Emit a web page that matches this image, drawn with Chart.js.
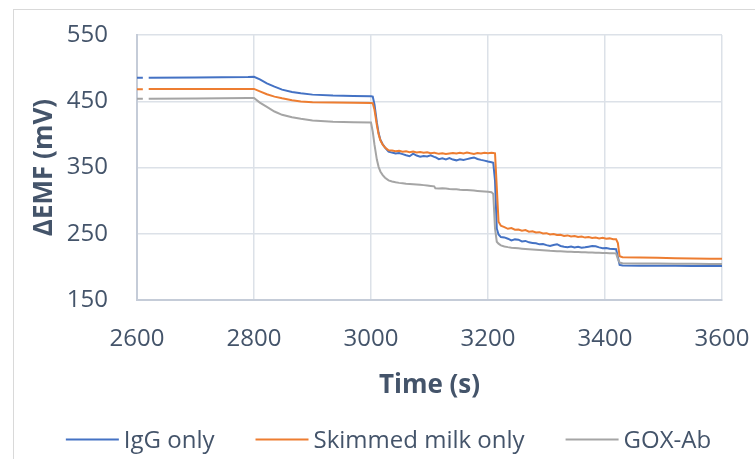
<!DOCTYPE html>
<html><head><meta charset="utf-8">
<script src="https://cdn.jsdelivr.net/npm/chart.js@4.4.1/dist/chart.umd.min.js"></script>
<style>html,body{margin:0;padding:0;background:#fff;}#wrap{width:755px;height:459px;position:relative;}</style>
</head><body><div id="wrap"><canvas id="c" width="755" height="459"></canvas></div>
<script>
// Time (s)
const times = [
  2600, 2610, 2615, 2620, 2700, 2790, 2800,
  2810, 2822, 2835, 2848, 2865, 2880, 2900, 2935, 2970, 3000,
  3003, 3006, 3010, 3013, 3016, 3020, 3024, 3030,
  3036, 3042, 3048, 3054, 3060, 3066, 3072, 3078, 3084, 3090, 3096, 3102, 3108,
  3110,
  3116, 3122, 3128, 3134, 3140, 3146, 3152, 3158, 3164, 3170, 3176, 3182, 3188, 3194, 3200, 3206,
  3209, 3212, 3215, 3218, 3222,
  3228, 3234, 3240, 3246, 3252, 3258, 3264, 3270, 3276, 3282,
  3288, 3294, 3300, 3306, 3312, 3318, 3324, 3330, 3336, 3342,
  3348, 3354, 3360, 3366, 3372, 3378, 3384, 3390, 3396, 3402,
  3408, 3414,
  3419, 3422, 3425, 3430,
  3460, 3490, 3520, 3550, 3580, 3600
];
// IgG only (mV)
const iggOnly = [
  485.5, 485.5, null, 485.6, 486, 486.6, 487,
  483, 477, 472, 467.5, 464, 462, 460, 458.5, 458, 457.5,
  457, 445, 418, 402, 392, 385, 380, 374,
  372.5, 371.2, 371.8, 370.2, 368.5, 367, 370.8, 368, 366.3, 367.5, 366.8, 368.5, 366,
  365.5,
  362.5, 363.8, 362.3, 364.2, 362, 360.8, 362.5, 361.3, 362.6, 364, 365.2, 362.8, 361.5, 360.4, 359, 357.8,
  357, 330, 258, 249, 245,
  244.5, 242.5, 240, 241.5, 241, 238.5, 239.2, 237, 236.2, 235.5,
  234, 234.6, 232.8, 231.5, 233, 234.2, 231.6, 230.4, 229.6, 230.8,
  229.2, 230.2, 228.8, 229.5, 230.5, 231.4, 231, 229.4, 228.2, 228.6,
  227.4, 227,
  226.6, 215, 203, 202,
  201.8, 201.6, 201.7, 201.4, 201.5, 201.3
];
// Skimmed milk only (mV)
const milkOnly = [
  468.3, 468.3, null, 468.4, 468.5, 468.6, 468.6,
  465, 460.5, 457, 454.4, 451.5, 449.8, 448.6, 448, 447.6, 447.2,
  447, 437, 414, 400, 391, 384.5, 380, 376,
  375.8, 374.6, 375.3, 373.8, 374.5, 373.2, 374, 372.6, 373.5, 372.3, 373, 371.6, 372.4,
  371.8,
  370.6, 371.5, 370.3, 371.2, 372, 371, 372.2, 371.3, 372.5, 371.4, 370.5, 371.8, 371.1, 372.3, 371.5, 372.2,
  372, 371.5, 320, 268, 262,
  260, 257.5, 258.5, 256, 256.5, 254.6, 255.5, 253.2, 253.8, 251.8,
  252.4, 250.5, 250.9, 249, 249.6, 248, 248.4, 246.8, 247.5, 246,
  246.6, 245, 245.7, 244.2, 245, 243.6, 244.3, 243, 243.8, 242.4,
  243, 241.8,
  241.6, 236, 216, 214.5,
  214, 213.6, 213.2, 212.8, 212.4, 212.2
];
// GOX-Ab (mV)
const goxAb = [
  453.6, 453.6, null, 453.7, 454.2, 454.8, 455,
  448, 441.5, 434.5, 429.5, 425.8, 423.5, 421, 419, 418.3, 418,
  404, 384, 362, 351, 344, 338.5, 334.5, 330.5,
  328.8, 327.6, 326.8, 326.2, 325.6, 325.2, 324.8, 324.5, 323.9, 323.4, 322.8, 322.2, 321.6,
  318.6,
  318.4, 318.6, 318.2, 317.6, 317.2, 317, 316.5, 316.2, 316, 315.6, 315.2, 314.7, 314.3, 313.8, 313.3, 312.8,
  310, 258, 238, 235, 232.5,
  230.8, 229.8, 229, 228.5, 228, 227.5, 227, 226.6, 226.2, 225.8,
  225.4, 225, 224.6, 224.2, 224, 223.7, 223.5, 223.2, 223, 222.8,
  222.6, 222.4, 222.2, 222, 221.8, 221.6, 221.4, 221.2, 221, 220.8,
  220.7, 220.5,
  220.4, 212, 206.5, 205.5,
  205.2, 205, 204.8, 204.6, 204.4, 204.3
];
const seriesNames = ['IgG only', 'Skimmed milk only', 'GOX-Ab'];
const seriesColors = ['#4472C4', '#ED7D31', '#A5A5A5'];
const seriesValues = [iggOnly, milkOnly, goxAb];
const xTickValues = [2600, 2800, 3000, 3200, 3400, 3600];
const yTickValues = [150, 250, 350, 450, 550];

const TEXT = '#44546A';
const FONT = '"Open Sans", "Noto Sans", sans-serif';

const frame = {
  id: 'frame',
  beforeDraw(chart) {
    const ctx = chart.ctx;
    ctx.save();
    ctx.fillStyle = '#fff';
    ctx.fillRect(0, 0, chart.width, chart.height);
    ctx.strokeStyle = '#D9D9D9';
    ctx.lineWidth = 1;
    ctx.strokeRect(13.5, 9.5, 900, 600);
    ctx.restore();
  }
};
const customLegend = {
  id: 'customLegend',
  afterDraw(chart) {
    const ctx = chart.ctx;
    ctx.save();
    ctx.font = '24px ' + FONT;
    const items = chart.data.datasets.map(d => ({ label: d.label, color: d.borderColor, w: ctx.measureText(d.label).width }));
    const lineLen = 53, gapTxt = 5, gapItem = 41;
    const total = items.reduce((s, it) => s + lineLen + gapTxt + it.w, 0) + gapItem * (items.length - 1);
    let x = 388.5 - total / 2;
    const yLine = 439.5;
    items.forEach(it => {
      ctx.strokeStyle = it.color;
      ctx.lineWidth = 2;
      ctx.beginPath();
      ctx.moveTo(x, yLine);
      ctx.lineTo(x + lineLen, yLine);
      ctx.stroke();
      ctx.fillStyle = TEXT;
      ctx.textBaseline = 'alphabetic';
      ctx.textAlign = 'left';
      ctx.fillText(it.label, x + lineLen + gapTxt, 448);
      x += lineLen + gapTxt + it.w + gapItem;
    });
    ctx.restore();
  }
};

const datasets = seriesNames.map((name, k) => ({
  label: name,
  data: times.map((t, i) => ({ x: t, y: seriesValues[k][i] })),
  borderColor: seriesColors[k],
  backgroundColor: seriesColors[k],
  borderWidth: 2,
  pointRadius: 0,
  tension: 0,
  spanGaps: false,
  order: 3 - k
}));

new Chart(document.getElementById('c'), {
  type: 'line',
  data: { datasets },
  plugins: [frame, customLegend],
  options: {
    responsive: false,
    animation: false,
    layout: { padding: { left: 25, top: 35, right: 33, bottom: 53.4 } },
    plugins: { legend: { display: false }, tooltip: { enabled: false } },
    scales: {
      x: {
        type: 'linear',
        min: xTickValues[0],
        max: xTickValues[xTickValues.length - 1],
        afterBuildTicks(scale) { scale.ticks = xTickValues.map(v => ({ value: v })); },
        afterFit(scale) { scale.height = 105.6; scale.paddingLeft = 0; scale.paddingRight = 0; },
        grid: { color: '#DCE1E8', lineWidth: 1.5, drawTicks: false },
        border: { color: '#C5CCD8', width: 2 },
        ticks: { color: TEXT, font: { family: FONT, size: 24 }, padding: 25, maxRotation: 0, callback: v => String(v) },
        title: { display: true, text: 'Time (s)', color: TEXT, font: { family: FONT, size: 26, weight: 'bold' } }
      },
      y: {
        type: 'linear',
        min: yTickValues[0],
        max: yTickValues[yTickValues.length - 1],
        afterBuildTicks(scale) { scale.ticks = yTickValues.map(v => ({ value: v })); },
        afterFit(scale) { scale.width = 112; scale.paddingTop = 0; scale.paddingBottom = 0; },
        grid: { color: '#DCE1E8', lineWidth: 1.5, drawTicks: false },
        border: { color: '#C5CCD8', width: 2 },
        ticks: { color: TEXT, font: { family: FONT, size: 24 }, padding: 29, callback: v => String(v) },
        title: { display: true, text: 'ΔEMF (mV)', color: TEXT, font: { family: FONT, size: 26, weight: 'bold' } }
      }
    }
  }
});
</script></body></html>
